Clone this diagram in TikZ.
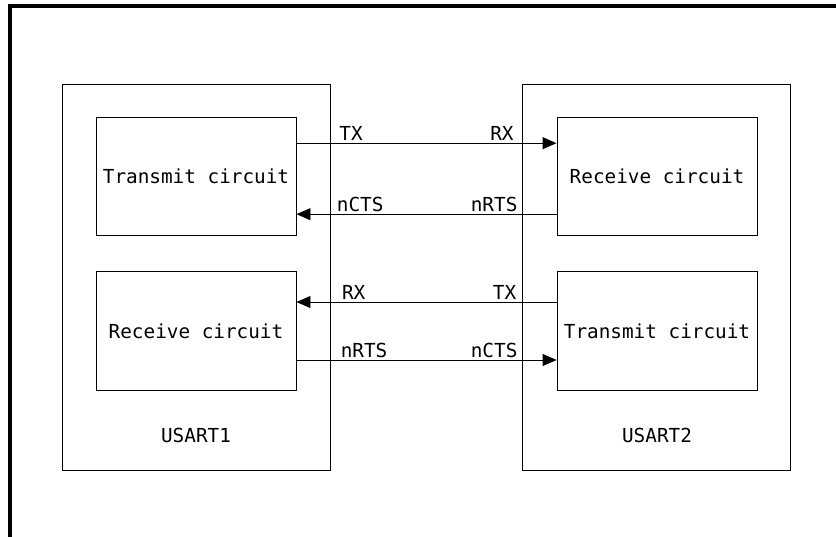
\documentclass[tikz,border=0pt]{standalone}
\usepackage{fontspec}
\setmonofont{DejaVu Sans Mono}
\usepackage{tikz}
\usetikzlibrary{positioning,arrows.meta}

\begin{document}
\begin{tikzpicture}[x=0.3mm, y=-0.3mm,
  every node/.style={font=\ttfamily\fontsize{16.5}{20}\selectfont},
  usart/.style={rectangle, draw, line width=0.8pt, minimum width=80.4mm, minimum height=115.8mm, inner sep=0pt},
  ckt/.style={rectangle, draw, line width=0.8pt, minimum width=60mm, minimum height=35.6mm, inner sep=0pt},
  sig/.style={above, inner sep=1.5pt},
  arr/.style={-{Triangle[length=4.2mm, width=3.6mm]}, line width=0.8pt}
]
  \useasboundingbox (0,0) rectangle (836,536);
  \draw[line width=3pt] (10,560) |- (860,6);

  \node[usart] (u1) at (196,277) {};
  \node[usart] (u2) at (656.5,277) {};
  \node[ckt] (tx1) at (196,176.5) {Transmit circuit};
  \node[ckt] (rx1) at (196,331) {Receive circuit};
  \node[ckt] (rx2) at (657,176.5) {Receive circuit};
  \node[ckt] (tx2) at (657,331) {Transmit circuit};
  \node (n1) at (196,435) {USART1};
  \node (n2) at (657,435) {USART2};

  \draw[arr] ([yshift=10mm]tx1.east) -- node[sig, pos=0.21]{TX} node[sig, pos=0.79]{RX} ([yshift=10mm]rx2.west);
  \draw[arr] ([yshift=-11.3mm]rx2.west) -- node[sig, pos=0.24]{nRTS} node[sig, pos=0.755]{nCTS} ([yshift=-11.3mm]tx1.east);
  \draw[arr] ([yshift=8.7mm]tx2.west) -- node[sig, pos=0.2]{TX} node[sig, pos=0.78]{RX} ([yshift=8.7mm]rx1.east);
  \draw[arr] ([yshift=-8.7mm]rx1.east) -- node[sig, pos=0.26]{nRTS} node[sig, pos=0.76]{nCTS} ([yshift=-8.7mm]tx2.west);
\end{tikzpicture}
\end{document}
